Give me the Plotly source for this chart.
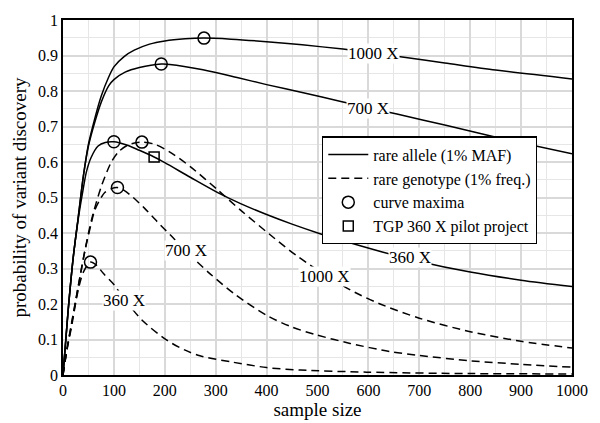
import plotly.graph_objects as go

# ---- data ----
allele_1000_x = [0, 5, 10, 20, 30, 40, 50, 62, 75, 90, 100, 120, 140, 170, 200, 240, 277, 330, 400, 470, 550, 610, 670, 750, 850, 1000]
allele_1000_y = [0, 0.09, 0.18, 0.33, 0.445, 0.56, 0.65, 0.72, 0.785, 0.84, 0.868, 0.897, 0.915, 0.932, 0.941, 0.947, 0.949, 0.946, 0.939, 0.93, 0.918, 0.907, 0.895, 0.879, 0.859, 0.834]

allele_700_x = [0, 5, 10, 20, 30, 40, 50, 62, 75, 90, 100, 122, 150, 193, 210, 275, 342, 400, 472, 548, 600, 656, 750, 859, 1000]
allele_700_y = [0, 0.09, 0.18, 0.33, 0.445, 0.56, 0.645, 0.71, 0.768, 0.815, 0.832, 0.853, 0.866, 0.876, 0.875, 0.86, 0.838, 0.818, 0.795, 0.77, 0.753, 0.735, 0.704, 0.667, 0.623]

allele_360_x = [0, 10, 20, 30, 38, 46, 55, 69, 83, 100, 125, 150, 179, 200, 250, 305, 350, 400, 450, 505, 550, 629, 700, 800, 900, 1000]
allele_360_y = [0, 0.18, 0.33, 0.44, 0.51, 0.572, 0.612, 0.645, 0.655, 0.657, 0.648, 0.633, 0.614, 0.598, 0.557, 0.513, 0.482, 0.452, 0.425, 0.398, 0.378, 0.346, 0.32, 0.29, 0.267, 0.249]

geno_1000_x = [0, 8, 16, 30, 43, 56, 75, 95, 110, 128, 155, 180, 210, 250, 305, 350, 407, 460, 544, 583, 623, 700, 800, 900, 1000]
geno_1000_y = [0, 0.075, 0.14, 0.25, 0.35, 0.437, 0.53, 0.6, 0.63, 0.648, 0.656, 0.65, 0.628, 0.587, 0.52, 0.463, 0.395, 0.335, 0.256, 0.226, 0.2, 0.16, 0.122, 0.095, 0.076]

geno_700_x = [0, 8, 16, 30, 43, 56, 62, 75, 82, 95, 107, 120, 138, 160, 185, 214, 241, 289, 340, 400, 450, 498, 564, 642, 700, 800, 900, 1000]
geno_700_y = [0, 0.075, 0.136, 0.25, 0.35, 0.43, 0.463, 0.5, 0.514, 0.525, 0.528, 0.52, 0.5, 0.47, 0.432, 0.39, 0.35, 0.285, 0.225, 0.168, 0.135, 0.113, 0.089, 0.066, 0.055, 0.04, 0.03, 0.022]

geno_360_x = [0, 8, 16, 30, 40, 54, 65, 80, 100, 120, 155, 204, 240, 269, 334, 400, 466, 597, 800, 1000]
geno_360_y = [0, 0.072, 0.13, 0.24, 0.29, 0.318, 0.31, 0.285, 0.255, 0.215, 0.155, 0.098, 0.07, 0.054, 0.036, 0.021, 0.014, 0.008, 0.004, 0.003]

maxima_x = [277, 193, 100, 155, 107, 54]
maxima_y = [0.949, 0.876, 0.657, 0.656, 0.528, 0.318]

pilot_x = [179]
pilot_y = [0.614]

label_text = ["1000 X", "700 X", "360 X", "1000 X", "700 X", "360 X"]
label_x = [610, 600, 682, 513, 241, 120]
label_y = [0.907, 0.752, 0.332, 0.277, 0.352, 0.211]

x_ticks = list(range(0, 1001, 100))
y_ticks = [0, 0.1, 0.2, 0.3, 0.4, 0.5, 0.6, 0.7, 0.8, 0.9, 1]
y_ticktext = ["0", "0.1", "0.2", "0.3", "0.4", "0.5", "0.6", "0.7", "0.8", "0.9", "1"]

FONT = "Liberation Serif, 'Times New Roman', 'DejaVu Serif', serif"

fig = go.Figure()

solid = [(allele_1000_x, allele_1000_y), (allele_700_x, allele_700_y), (allele_360_x, allele_360_y)]
dashed = [(geno_1000_x, geno_1000_y), (geno_700_x, geno_700_y), (geno_360_x, geno_360_y)]

for i, (xs, ys) in enumerate(solid):
    fig.add_trace(go.Scatter(x=xs, y=ys, mode="lines", line=dict(color="black", width=1.5, shape="spline", smoothing=0.8),
                             name="rare allele (1% MAF)", legendgroup="a", showlegend=(i == 0)))
for i, (xs, ys) in enumerate(dashed):
    fig.add_trace(go.Scatter(x=xs, y=ys, mode="lines", line=dict(color="black", width=1.5, dash="8px,5px", shape="spline", smoothing=0.8),
                             name="rare genotype (1% freq.)", legendgroup="g", showlegend=(i == 0)))

fig.add_trace(go.Scatter(x=maxima_x, y=maxima_y, mode="markers",
                         marker=dict(symbol="circle-open", size=12, color="black", line=dict(width=1.5, color="black")),
                         name="curve maxima"))
fig.add_trace(go.Scatter(x=pilot_x, y=pilot_y, mode="markers",
                         marker=dict(symbol="square-open", size=10, color="black", line=dict(width=1.5, color="black")),
                         name="TGP 360 X pilot project"))

for t, xv, yv in zip(label_text, label_x, label_y):
    fig.add_annotation(x=xv, y=yv, text=t, showarrow=False, bgcolor="white",
                       font=dict(family=FONT, size=17, color="black"), borderpad=0)

axis_common = dict(showline=True, linecolor="black", linewidth=1.5, mirror=True,
                   showgrid=True, gridcolor="#d9d9d9", gridwidth=2, zeroline=False,
                   ticks="", tickfont=dict(family=FONT, size=16, color="black"))

fig.update_xaxes(range=[0, 1000], tickvals=x_ticks,
                 minor=dict(dtick=50, showgrid=True, gridcolor="#e6e6e6", gridwidth=1),
                 title=dict(text="sample size", font=dict(family=FONT, size=19, color="black"), standoff=0),
                 **axis_common)
fig.update_yaxes(range=[0, 1], tickvals=y_ticks, ticktext=y_ticktext,
                 minor=dict(dtick=0.05, showgrid=True, gridcolor="#e6e6e6", gridwidth=1),
                 title=dict(text="probability of variant discovery", font=dict(family=FONT, size=19, color="black"), standoff=6),
                 **axis_common)

fig.update_layout(
    width=600, height=423,
    margin=dict(l=63, r=28, t=20, b=48),
    paper_bgcolor="white", plot_bgcolor="white",
    font=dict(family=FONT, color="black"),
    legend=dict(x=0.509, y=0.672, xanchor="left", yanchor="top",
                bgcolor="white", bordercolor="black", borderwidth=1.2,
                font=dict(family=FONT, size=16, color="black"),
                tracegroupgap=0, itemwidth=40),
)

fig.write_html("out.html", config={"displayModeBar": False},
               post_script="document.body.style.margin='0';")
